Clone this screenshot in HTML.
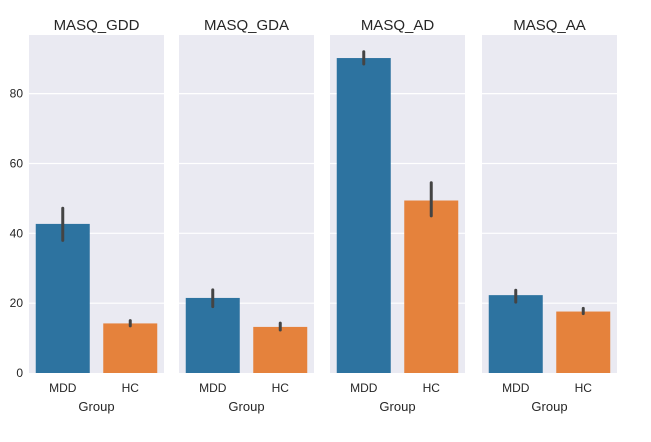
<!DOCTYPE html>
<html><head><meta charset="utf-8"><style>
body{margin:0;background:#fff;font-family:"Liberation Sans",Arial,sans-serif;}
svg text{font-family:"Liberation Sans",Arial,sans-serif;fill:#262626;}
</style></head><body>
<svg id="chart" width="651" height="437" xmlns="http://www.w3.org/2000/svg"></svg>
<script>
const panelTitles = ["MASQ_GDD","MASQ_GDA","MASQ_AD","MASQ_AA"];
const categories = ["MDD","HC"];
const mddValues = [42.7,21.5,90.2,22.3];
const hcValues = [14.2,13.2,49.4,17.6];
const mddLow = [38.0,19.0,88.5,20.3];
const mddHigh = [47.2,23.8,92.0,23.7];
const hcLow = [13.5,12.3,45.0,17.0];
const hcHigh = [15.0,14.3,54.5,18.5];
const yTicks = [0,20,40,60,80];
const colors = ["#2d73a0","#e5823c"];
const NS="http://www.w3.org/2000/svg";
const svg=document.getElementById('chart');
const plotTop=35,plotBottom=373,yMax=96.8,pw=135,panelX=[29,179,330,482];
function y(v){return plotBottom-(v/yMax)*(plotBottom-plotTop);}
function mk(t,a,p){const e=document.createElementNS(NS,t);for(const k in a)e.setAttribute(k,a[k]);(p||svg).appendChild(e);return e;}
panelTitles.forEach((title,i)=>{
  const x0=panelX[i];
  const g=mk('g',{});
  
  
  const bg=mk('rect',{x:x0,y:plotTop,width:pw,height:plotBottom-plotTop,fill:'#eaeaf2'},g);
  
  
  yTicks.forEach(t=>{
    if(t>0){const l=mk('line',{x1:x0,x2:x0+pw,y1:y(t),y2:y(t),stroke:'#fff','stroke-width':1.2},g);
    
    }
    if(i===0){const tx=mk('text',{x:x0-6,y:y(t)+4,'font-size':12,'text-anchor':'end'},g);tx.textContent=t;
    
    }
  });
  const tt=mk('text',{x:x0+pw/2,y:30,'font-size':15,'text-anchor':'middle'},g);tt.textContent=title;
  
  
  const vals=[mddValues[i],hcValues[i]],lo=[mddLow[i],hcLow[i]],hi=[mddHigh[i],hcHigh[i]];
  categories.forEach((c,j)=>{
    const cw=pw/2,cx=x0+cw*j+cw/2,bw=cw*0.8;
    const b=mk('rect',{x:cx-bw/2,y:y(vals[j]),width:bw,height:plotBottom-y(vals[j]),fill:colors[j]},g);
    
    
    const e=mk('line',{x1:cx,x2:cx,y1:y(lo[j]),y2:y(hi[j]),stroke:'#444','stroke-width':3,'stroke-linecap':'round'},g);
    
    
    const tl=mk('text',{x:cx,y:392,'font-size':12,'text-anchor':'middle'},g);tl.textContent=c;
    
    
  });
  const xl=mk('text',{x:x0+pw/2,y:411,'font-size':13,'text-anchor':'middle'},g);xl.textContent='Group';
  
  
});
</script>
</body></html>
